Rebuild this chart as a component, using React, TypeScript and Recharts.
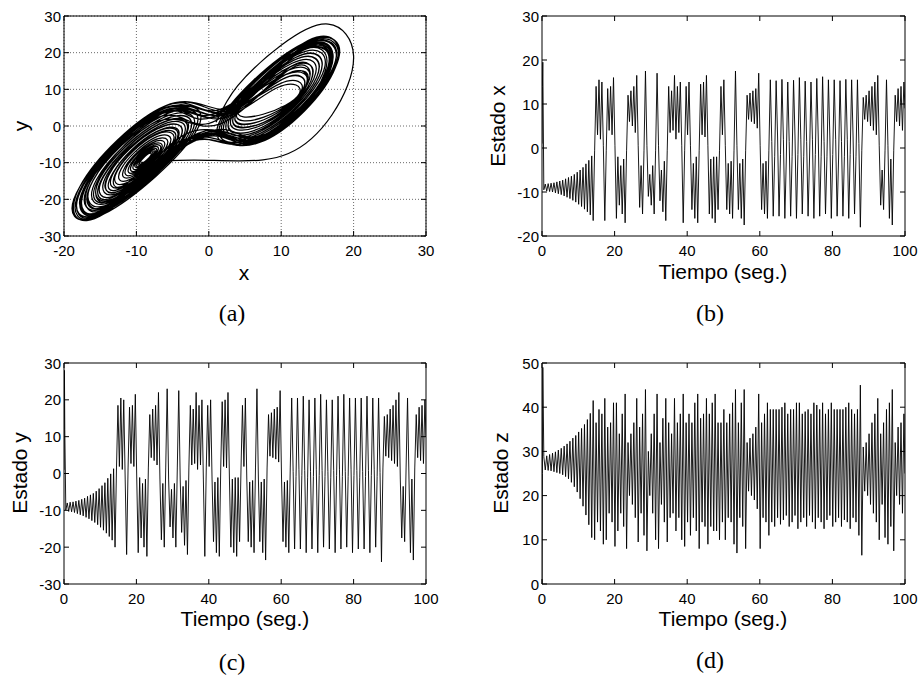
import { LineChart, Line, XAxis, YAxis, CartesianGrid, ReferenceArea } from 'recharts'

// instantes (s) en que se leyeron los extremos de las tres señales
const TIEMPO = [
  0, 0.12, 0.22,
  0.5, 0.9, 1.3, 1.7, 2.1, 2.5, 2.9, 3.3, 3.7, 4.1,
  4.5, 4.9, 5.3, 5.7, 6.1, 6.5, 6.9, 7.3, 7.7, 8.1,
  8.5, 8.9, 9.3, 9.7, 10.1, 10.5, 10.9, 11.3, 11.7, 12.1,
  12.5, 12.9, 13.3, 13.7, 14.1, 14.5, 14.9, 15.3, 15.7, 16.1,
  16.5, 16.9, 17.3, 17.7, 18.1, 18.5, 18.9, 19.3, 19.7, 20.1,
  20.5, 20.9, 21.3, 21.7, 22.1, 22.5, 22.9, 23.3, 23.7, 24.1,
  24.5, 24.9, 25.3, 25.7, 26.1, 26.5, 26.9, 27.3, 27.7, 28.1,
  28.5, 28.9, 29.3, 29.7, 30.1, 30.5, 30.9, 31.3, 31.7, 32.1,
  32.5, 32.9, 33.3, 33.7, 34.1, 34.5, 34.9, 35.3, 35.7, 36.1,
  36.5, 36.9, 37.3, 37.7, 38.1, 38.5, 38.9, 39.3, 39.7, 40.1,
  40.5, 40.9, 41.3, 41.7, 42.1, 42.5, 42.9, 43.3, 43.7, 44.1,
  44.5, 44.9, 45.3, 45.7, 46.1, 46.5, 46.9, 47.3, 47.7, 48.1,
  48.5, 48.9, 49.3, 49.7, 50.1, 50.5, 50.9, 51.3, 51.7, 52.1,
  52.5, 52.9, 53.3, 53.7, 54.1, 54.5, 54.9, 55.3, 55.7, 56.1,
  56.5, 56.9, 57.3, 57.7, 58.1, 58.5, 58.9, 59.3, 59.7, 60.1,
  60.5, 60.9, 61.3, 61.7, 62.1, 62.5, 62.9, 63.3, 63.7, 64.1,
  64.5, 64.9, 65.3, 65.7, 66.1, 66.5, 66.9, 67.3, 67.7, 68.1,
  68.5, 68.9, 69.3, 69.7, 70.1, 70.5, 70.9, 71.3, 71.7, 72.1,
  72.5, 72.9, 73.3, 73.7, 74.1, 74.5, 74.9, 75.3, 75.7, 76.1,
  76.5, 76.9, 77.3, 77.7, 78.1, 78.5, 78.9, 79.3, 79.7, 80.1,
  80.5, 80.9, 81.3, 81.7, 82.1, 82.5, 82.9, 83.3, 83.7, 84.1,
  84.5, 84.9, 85.3, 85.7, 86.1, 86.5, 86.9, 87.3, 87.7, 88.1,
  88.5, 88.9, 89.3, 89.7, 90.1, 90.5, 90.9, 91.3, 91.7, 92.1,
  92.5, 92.9, 93.3, 93.7, 94.1, 94.5, 94.9, 95.3, 95.7, 96.1,
  96.5, 96.9, 97.3, 97.7, 98.1, 98.5, 98.9, 99.3, 99.7,
  100,
]

const ESTADO_X = [
  1, 14, 19.5,
  -9.5, -8.2, -9.8, -8.1, -9.9, -8.0, -10.0, -7.9, -10.2, -7.7,
  -10.4, -7.5, -10.6, -7.3, -10.9, -7.0, -11.2, -6.7, -11.5, -6.4,
  -11.9, -6.0, -12.3, -5.5, -12.8, -5.0, -13.3, -4.4, -13.9, -3.6,
  -14.5, -2.8, -15.2, -1.8, -16.5, -0.5, 14, 3, 15.5, 2,
  15, 0.5, -16.5, -0.5, 13.5, 4, 14, 3, 16, 0.5,
  -16, -2, -13, -4, -15, -2.5, -17, -0.5, 12, 6,
  13, 5, 14, 3.5, 16.5, 0.5, -13.5, -4, -15, -0.5,
  17.5, 0.5, -11, -6, -13, -4, -15, -0.5, 17, 0.5,
  -12, -5, -14.5, -3, -16.5, -0.5, 14, 3.5, 13, 4,
  16.5, 2, 14, 3.5, 15, 0.5, -17, -0.5, 14, 3,
  15, 0.5, -14, -3.5, -16, -2, -17, -0.5, 14.5, 3,
  15, 2.5, 16.5, 0.5, -15, -2.5, -16, -2, -17, -2,
  -14, -0.5, 14, 3, 15.5, 0.5, -14, -3.5, -15, -3,
  -16, -0.5, 17.5, 0.5, -14, -3.5, -16, -2.5, -17.5, -0.5,
  12, 6.5, 12.5, 6, 13, 5.5, 13.5, 4.5, 17, 0.5,
  -14, -3.5, -15, -3, -16, -0.5, 15.5, 1.5, -15.5, -2,
  15.3, 2.5, -15.5, -1.5, 15.6, 2, -16, -2.5, 15, 1.5,
  -15.5, -2, 15.4, 2.5, -16, -1.5, 16, 2, -15, -2,
  15.2, 1.5, -15.5, -2.5, 15, 2, -16, -1.5, 15.8, 2.5,
  -15.5, -2, 16.2, 1.5, -15, -2, 15.5, 2.5, -16, -1.5,
  15.5, 2, -15.5, -2.5, 15.3, 1.5, -15.5, -2, 15.6, 2,
  -16, -1.5, 15.5, 2.5, -15, -2, 15.5, 1, -18, -0.5,
  11.5, 6.5, 12, 6, 13, 5, 14, 4, 15, 3,
  16.5, 0.5, -13, -5, -14, -0.5, 15.5, 0.5, -16, -2.5,
  -17.5, -0.5, 12, 6, 13.5, 5, 14, 4, 15,
  9,
]

const ESTADO_Y = [
  1, 28, 12,
  -9.9, -8.0, -10.3, -7.8, -10.4, -7.7, -10.6, -7.5, -10.9, -7.3,
  -11.2, -7.0, -11.5, -6.7, -11.9, -6.2, -12.3, -5.8, -12.8, -5.4,
  -13.3, -4.8, -13.9, -4.1, -14.6, -3.3, -15.4, -2.5, -16.2, -1.3,
  -17.1, -0.1, -18.1, 1.3, -20.0, 1.5, 18.5, 1.9, 20.5, 1.1,
  20, -1.5, -22, 1.5, 18, 2.7, 18.5, 1.9, 21.5, -1.5,
  -21.5, -1.1, -17.5, -2.7, -20, -1.5, -22.5, 1.5, 16, 4.3,
  17.5, 3.5, 18.5, 2.3, 22, -1.5, -18, -2.7, -20, 1.5,
  23, -1.5, -14.5, -4.3, -17.5, -2.7, -20, 1.5, 22.5, -1.5,
  -16, -3.5, -19.5, -1.9, -22, 1.5, 18.5, 2.3, 17.5, 2.7,
  22, 1.1, 18.5, 2.3, 20, -1.5, -22.5, 1.5, 18.5, 1.9,
  20, -1.5, -18.5, -2.3, -21.5, -1.1, -22.5, 1.5, 19.5, 1.9,
  20, 1.5, 22, -1.5, -20, -1.5, -21.5, -1.1, -22.5, -1.1,
  -18.5, 1.5, 18.5, 1.9, 20.5, -1.5, -18.5, -2.3, -20, -1.9,
  -21.5, 1.5, 23, -1.5, -18.5, -2.3, -21.5, -1.5, -23.5, 1.5,
  16, 4.7, 16.5, 4.3, 17.5, 3.9, 18, 3.1, 22.5, -1.5,
  -18.5, -2.3, -20, -1.9, -21.5, 1.5, 20.5, 0.5, -20.5, -0.8,
  20.5, 1, -20.5, -0.5, 21, 0.8, -21.5, -1, 20, 0.5,
  -20.5, -0.8, 20.5, 1, -21.5, -0.5, 21.5, 0.8, -20, -0.8,
  20, 0.5, -20.5, -1, 20, 0.8, -21.5, -0.5, 21, 1,
  -20.5, -0.8, 21.5, 0.5, -20, -0.8, 20.5, 1, -21.5, -0.5,
  20.5, 0.8, -20.5, -1, 20.5, 0.5, -20.5, -0.8, 21, 0.8,
  -21.5, -0.5, 20.5, 1, -20, -0.8, 20.5, 0.3, -24, 1.5,
  15.5, 4.7, 16, 4.3, 17.5, 3.5, 18.5, 2.7, 20, 1.9,
  22, -1.5, -17.5, -3.5, -18.5, 1.5, 20.5, -1.5, -21.5, -1.5,
  -23.5, 1.5, 16, 4.3, 18, 3.5, 18.5, 2.7, 20,
  10,
]

const ESTADO_Z = [
  0, 25, 49,
  28.8, 25.8, 29.0, 25.7, 29.3, 25.6, 29.6, 25.4, 29.9, 25.2,
  30.3, 25.0, 30.7, 24.7, 31.2, 24.3, 31.7, 23.8, 32.3, 23.0,
  33.0, 22.0, 33.6, 20.8, 34.4, 19.3, 35.2, 17.6, 36.1, 15.6,
  37.2, 13.4, 38.6, 10.5, 41.5, 10, 36.5, 14, 39.5, 12,
  38.5, 9, 42, 10, 35.5, 16, 36.5, 14, 41, 8.5,
  41, 12, 34, 16, 38.5, 13, 43, 8, 32, 20,
  34, 18, 36.5, 15, 42, 9.5, 35.5, 16, 38.5, 11,
  44, 7.5, 30, 20, 34, 16, 38.5, 10, 43, 8,
  32, 18, 37.5, 14, 42, 9.5, 36.5, 15, 34, 16,
  42, 12, 36.5, 15, 38.5, 10, 43, 8.5, 36.5, 14,
  38.5, 11, 36.5, 15, 41, 12, 43, 8, 37.5, 14,
  38.5, 13, 42, 9, 38.5, 13, 41, 12, 43, 12,
  36.5, 10, 36.5, 14, 39.5, 10, 36.5, 15, 38.5, 14,
  41, 9, 44, 7, 36.5, 15, 41, 13, 44, 8,
  32, 21, 33, 20, 34, 19, 35.5, 17, 43, 8,
  36.5, 15, 38.5, 14, 41, 11, 39.5, 14, 39.5, 13,
  39.5, 15, 39.5, 13.5, 40, 14.5, 41, 15.5, 38.5, 13,
  39.5, 14, 39.5, 15.5, 41, 12.5, 41, 14, 38.5, 15,
  39, 13, 39.5, 15.5, 38.5, 14, 41, 12.5, 40.5, 15,
  39.5, 14, 41, 12.5, 38.5, 14.5, 39.5, 15.5, 41, 13,
  39.5, 14, 39.5, 15, 39.5, 13, 39.5, 14.5, 40, 14,
  41, 12.5, 39.5, 15, 38.5, 14, 39.5, 11, 45, 6.5,
  31, 21, 32, 20, 34, 18, 36.5, 16, 38.5, 14,
  42, 10, 34, 18, 36.5, 10.5, 39.5, 9, 41, 13,
  44, 7.5, 32, 20, 35.5, 18, 36.5, 16, 38.5,
  25,
]

const FASE_XY: [number, number][] = [
  [1, 1], [4, 11], [10, 22], [16.5, 27.8], [20, 19], [17, 3], [11, -7.5], [4, -9.5], [-2, -9.3], [-6.5, -9.6],
  [-9.1, -9.9], [-9.3, -9.3], [-8.4, -7.6], [-8.0, -8.0],
  [-9.2, -10.2], [-9.5, -9.5], [-8.3, -7.3], [-7.8, -7.8],
  [-9.3, -10.5], [-9.7, -9.6], [-8.3, -7.0], [-7.6, -7.7],
  [-9.4, -10.8], [-9.9, -9.8], [-8.2, -6.7], [-7.5, -7.5],
  [-9.5, -11.1], [-10.1, -9.9], [-8.2, -6.4], [-7.3, -7.3],
  [-9.7, -11.6], [-10.3, -10.2], [-8.1, -6.0], [-7.1, -7.0],
  [-9.9, -12.1], [-10.6, -10.4], [-8.0, -5.6], [-6.8, -6.8],
  [-10.1, -12.5], [-10.9, -10.7], [-8.0, -5.2], [-6.6, -6.5],
  [-10.3, -13.1], [-11.3, -11.0], [-7.8, -4.6], [-6.3, -6.2],
  [-10.5, -13.7], [-11.6, -11.3], [-7.7, -4.0], [-5.9, -5.8],
  [-10.8, -14.5], [-12.1, -11.7], [-7.6, -3.3], [-5.5, -5.4],
  [-11.1, -15.3], [-12.6, -12.1], [-7.5, -2.6], [-5.1, -5.0],
  [-11.5, -16.2], [-13.1, -12.5], [-7.3, -1.7], [-4.6, -4.4],
  [-11.9, -17.3], [-13.8, -13.1], [-7.1, -0.7], [-4.1, -3.8],
  [-12.4, -18.5], [-14.5, -13.7], [-6.9, 0.4], [-3.4, -3.1],
  [-12.8, -19.7], [-15.2, -14.3], [-6.7, 1.5], [1.5, 0.5],
  [11.0, 15.2], [13.7, 11.7], [7.5, 0.4], [3.2, 2.6],
  [11.9, 18.6], [15.3, 13.8], [7.3, -1.8], [2.0, 1.3],
  [12.8, 21.7], [17.1, 15.6], [7.1, -4.0], [-1.5, -3],
  [-14.5, -24.0], [-17.8, -16.5], [-6.0, 5.5], [2.5, 4.5],
  [10.2, 12.8], [13.1, 10.4], [7.6, 1.7], [3.8, 3.5],
  [11.3, 16.2], [14.1, 12.3], [7.5, -0.2], [2.9, 2.2],
  [12.1, 19.4], [15.7, 14.2], [7.2, -2.4], [1.7, 1.0],
  [13.0, 22.5], [17.5, 16.0], [7.0, -4.5], [-2.5, -3.5],
  [-12.7, -19.4], [-15.0, -14.2], [-6.8, 1.2], [-2.9, -2.6],
  [-13.6, -21.7], [-16.4, -15.3], [-6.4, 3.4], [-1.7, -1.3],
  [-14.5, -24.0], [-17.8, -16.5], [-6.0, 5.5], [2, 4],
  [9.8, 11.5], [12.8, 9.6], [7.6, 2.4], [4.0, 4.0],
  [11.0, 15.2], [13.7, 11.7], [7.5, 0.4], [3.2, 2.6],
  [11.7, 17.9], [14.9, 13.3], [7.3, -1.3], [2.3, 1.6],
  [12.8, 21.7], [17.1, 15.6], [7.1, -4.0], [-1, -3],
  [-13.3, -20.9], [-16.0, -14.9], [-6.5, 2.7], [1, 1.5],
  [13.0, 22.5], [17.5, 16.0], [7.0, -4.5], [-3, -3.5],
  [-11.3, -15.6], [-12.7, -12.2], [-7.4, -2.3], [-4.9, -4.8],
  [-12.1, -17.9], [-14.1, -13.4], [-7.0, -0.2], [-3.7, -3.5],
  [-13.0, -20.2], [-15.5, -14.6], [-6.7, 1.9], [-2.5, -2.2],
  [-13.9, -22.5], [-16.9, -15.7], [-6.3, 4.1], [2, 3],
  [10.6, 14.0], [13.4, 11.0], [7.6, 1.0], [3.5, 3.0],
  [11.5, 17.1], [14.5, 12.9], [7.4, -0.8], [2.6, 1.9],
  [12.4, 20.2], [16.2, 14.7], [7.2, -2.9], [1.4, 0.8],
  [13.0, 22.5], [17.5, 16.0], [7.0, -4.5], [-2, -4],
  [-11.8, -17.1], [-13.7, -13.0], [-7.2, -0.9], [-4.1, -3.9],
  [-13.3, -20.9], [-16.0, -14.9], [-6.5, 2.7], [-2.1, -1.7],
  [-14.2, -23.2], [-17.3, -16.1], [-6.1, 4.8], [3, 3.5],
  [11.3, 16.2], [14.1, 12.3], [7.5, -0.2], [2.9, 2.2],
  [12.6, 21.0], [16.6, 15.1], [7.1, -3.5], [-0.5, -2.5],
  [-12.4, -18.6], [-14.6, -13.8], [-6.9, 0.5], [-3.3, -3.0],
  [-13.6, -21.7], [-16.4, -15.3], [-6.4, 3.4], [-1.7, -1.3],
  [-14.5, -24.0], [-17.8, -16.5], [-6.0, 5.5], [1.5, 4.5],
  [11.9, 18.6], [15.3, 13.8], [7.3, -1.8], [2.0, 1.3],
  [12.8, 21.7], [17.1, 15.6], [7.1, -4.0], [-2, -3],
  [-13.9, -22.5], [-16.9, -15.7], [-6.3, 4.1], [2, 3],
  [12.6, 21.0], [16.6, 15.1], [7.1, -3.5], [-1.5, -2.5],
  [-13.8, -22.2], [-16.7, -15.6], [-6.3, 3.8], [0.5, 2.5],
  [12.4, 20.2], [16.2, 14.7], [7.2, -2.9], [-0.5, -2],
  [-14.2, -23.2], [-17.3, -16.1], [-6.1, 4.8], [2.5, 3.5],
  [12.7, 21.3], [16.8, 15.3], [7.1, -3.7], [-2.5, -3],
  [-14.0, -22.8], [-17.0, -15.9], [-6.2, 4.3], [1, 3.5],
  [12.5, 20.6], [16.4, 14.9], [7.2, -3.2], [-1, -2.5],
  [-14.4, -23.6], [-17.5, -16.3], [-6.0, 5.1], [3, 4],
  [12.3, 19.8], [16.0, 14.5], [7.2, -2.6], [-3, -2],
  [-13.6, -21.7], [-16.4, -15.3], [-6.4, 3.4], [1.5, 2],
  [9.5, 10.5], [12.5, 8.8], [7.5, 3.2], [4.2, 4.6],
  [10.6, 14.0], [13.4, 11.0], [7.6, 1.0], [3.5, 3.0],
  [11.5, 17.1], [14.5, 12.9], [7.4, -0.8], [2.6, 1.9],
  [12.4, 20.2], [16.2, 14.7], [7.2, -2.9], [-1.5, -2],
  [-13.3, -20.9], [-16.0, -14.9], [-6.5, 2.7], [-2.1, -1.7],
  [-14.2, -23.2], [-17.3, -16.1], [-6.1, 4.8], [2, 3.5],
  [10.2, 12.8], [13.1, 10.4], [7.6, 1.7], [3.8, 3.5],
  [11.7, 17.9], [14.9, 13.3], [7.3, -1.3], [2.3, 1.6],
  [12.9, 22.1], [17.3, 15.8], [7.0, -4.2], [-0.5, -3],
  [-11.5, -16.4], [-13.2, -12.6], [-7.3, -1.6], [-4.5, -4.3],
  [-12.7, -19.4], [-15.0, -14.2], [-6.8, 1.2], [-2.9, -2.6],
  [-13.9, -22.5], [-16.9, -15.7], [-6.3, 4.1], [0, 3],
  [10.6, 14.0], [13.4, 11.0], [7.6, 1.0], [3.5, 3.0],
  [11.9, 18.6], [15.3, 13.8], [7.3, -1.8], [2.0, 1.3],
  [12.9, 22.0], [17.2, 15.7], [7.1, -4.1],
]

const TICKS_X_FASE = [-20, -10, 0, 10, 20, 30]
const TICKS_Y_FASE = [-30, -20, -10, 0, 10, 20, 30]
const TICKS_TIEMPO = [0, 20, 40, 60, 80, 100]
const TICKS_ESTADO_X = [-20, -10, 0, 10, 20, 30]
const TICKS_ESTADO_Y = [-30, -20, -10, 0, 10, 20, 30]
const TICKS_ESTADO_Z = [0, 10, 20, 30, 40, 50]

const SANS = '"Liberation Sans", Arial, Helvetica, sans-serif'
const SERIF = '"Liberation Serif", "Times New Roman", serif'

type Punto = { a: number; b: number }

const faseData: Punto[] = FASE_XY.map(([a, b]) => ({ a, b }))
const serie = (vals: number[]): Punto[] => TIEMPO.map((t, i) => ({ a: t, b: vals[i] }))

interface PanelProps {
  left: number
  top: number
  width: number
  height: number
  marginTop: number
  marginRight: number
  yAxisWidth: number
  data: Punto[]
  xDomain: [number, number]
  yDomain: [number, number]
  xTicks: number[]
  yTicks: number[]
  grid?: boolean
  curve: 'linear' | 'natural'
  lineWidth: number
}

const X_AXIS_H = 44

function Panel(p: PanelProps) {
  const box = {
    top: p.marginTop,
    bottom: p.height - X_AXIS_H,
    left: p.yAxisWidth,
    right: p.width - p.marginRight,
  }

  const xTick = (t: any) => (
    <g>
      <line x1={t.x} x2={t.x} y1={box.bottom} y2={box.bottom - 5} stroke="#000" />
      <line x1={t.x} x2={t.x} y1={box.top} y2={box.top + 5} stroke="#000" />
      <text x={t.x} y={box.bottom + 14} textAnchor="middle" dominantBaseline="central"
        fontSize={15} fontFamily={SANS} fill="#000">{t.payload.value}</text>
    </g>
  )

  const yTick = (t: any) => (
    <g>
      <line x1={box.left} x2={box.left + 5} y1={t.y} y2={t.y} stroke="#000" />
      <line x1={box.right} x2={box.right - 5} y1={t.y} y2={t.y} stroke="#000" />
      <text x={box.left - 3} y={t.y} textAnchor="end" dominantBaseline="central"
        fontSize={15} fontFamily={SANS} fill="#000">{t.payload.value}</text>
    </g>
  )

  return (
    <div style={{ position: 'absolute', left: p.left, top: p.top }}>
      <LineChart
        width={p.width}
        height={p.height}
        data={p.data}
        margin={{ top: p.marginTop, right: p.marginRight, bottom: 0, left: 0 }}
      >
        {p.grid && <CartesianGrid stroke="#6a6a6a" strokeDasharray="1 2" />}
        <XAxis
          dataKey="a"
          type="number"
          domain={p.xDomain}
          ticks={p.xTicks}
          interval={0}
          allowDataOverflow
          height={X_AXIS_H}
          axisLine={false}
          tickLine={false}
          tick={xTick}
        />
        <YAxis
          type="number"
          domain={p.yDomain}
          ticks={p.yTicks}
          interval={0}
          allowDataOverflow
          width={p.yAxisWidth}
          axisLine={false}
          tickLine={false}
          tick={yTick}
        />
        <Line
          dataKey="b"
          type={p.curve}
          stroke="#000"
          strokeWidth={p.lineWidth}
          dot={false}
          activeDot={false}
          isAnimationActive={false}
        />
        <ReferenceArea
          x1={p.xDomain[0]}
          x2={p.xDomain[1]}
          y1={p.yDomain[0]}
          y2={p.yDomain[1]}
          fill="none"
          fillOpacity={0}
          stroke="#000"
          strokeWidth={1}
          ifOverflow="visible"
        />
      </LineChart>
    </div>
  )
}

export default function App() {
  const label = { fontFamily: SANS, fontSize: 21, fill: '#000' }
  const caption = { fontFamily: SERIF, fontSize: 24, fill: '#000' }

  return (
    <div style={{ position: 'absolute', left: 0, top: 0, width: 922, height: 679, background: '#fff' }}>
      <Panel left={0} top={0} width={440} height={280} marginTop={16} marginRight={14} yAxisWidth={64}
        data={faseData} xDomain={[-20, 30]} yDomain={[-30, 30]}
        xTicks={TICKS_X_FASE} yTicks={TICKS_Y_FASE} grid curve="natural" lineWidth={1.25} />
      <Panel left={460} top={0} width={460} height={280} marginTop={16} marginRight={15} yAxisWidth={82}
        data={serie(ESTADO_X)} xDomain={[0, 100]} yDomain={[-20, 30]}
        xTicks={TICKS_TIEMPO} yTicks={TICKS_ESTADO_X} curve="linear" lineWidth={0.9} />
      <Panel left={0} top={340} width={440} height={288} marginTop={23} marginRight={14} yAxisWidth={64}
        data={serie(ESTADO_Y)} xDomain={[0, 100]} yDomain={[-30, 30]}
        xTicks={TICKS_TIEMPO} yTicks={TICKS_ESTADO_Y} curve="linear" lineWidth={0.9} />
      <Panel left={460} top={340} width={460} height={288} marginTop={23} marginRight={15} yAxisWidth={82}
        data={serie(ESTADO_Z)} xDomain={[0, 100]} yDomain={[0, 50]}
        xTicks={TICKS_TIEMPO} yTicks={TICKS_ESTADO_Z} curve="linear" lineWidth={0.9} />

      <svg width={922} height={679} style={{ position: 'absolute', left: 0, top: 0, pointerEvents: 'none' }}>
        <text x={244} y={272} textAnchor="middle" dominantBaseline="central" {...label}>x</text>
        <text transform="translate(20,126) rotate(-90)" textAnchor="middle" dominantBaseline="central" {...label}>y</text>
        <text x={723} y={271} textAnchor="middle" dominantBaseline="central" {...label}>Tiempo (seg.)</text>
        <text transform="translate(497,126) rotate(-90)" textAnchor="middle" dominantBaseline="central" {...label}>Estado x</text>
        <text x={245} y={618} textAnchor="middle" dominantBaseline="central" {...label}>Tiempo (seg.)</text>
        <text transform="translate(19,473) rotate(-90)" textAnchor="middle" dominantBaseline="central" {...label}>Estado y</text>
        <text x={723} y={618} textAnchor="middle" dominantBaseline="central" {...label}>Tiempo (seg.)</text>
        <text transform="translate(500,473) rotate(-90)" textAnchor="middle" dominantBaseline="central" {...label}>Estado z</text>

        <text x={232} y={313} textAnchor="middle" dominantBaseline="central" {...caption}>(a)</text>
        <text x={710} y={313} textAnchor="middle" dominantBaseline="central" {...caption}>(b)</text>
        <text x={232} y={662} textAnchor="middle" dominantBaseline="central" {...caption}>(c)</text>
        <text x={710} y={660} textAnchor="middle" dominantBaseline="central" {...caption}>(d)</text>
      </svg>
    </div>
  )
}
